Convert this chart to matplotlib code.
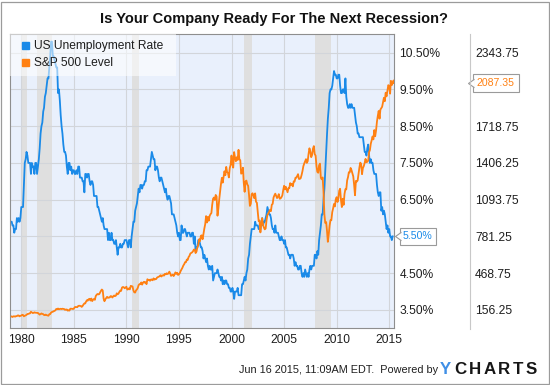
import matplotlib
matplotlib.use("Agg")
import matplotlib.pyplot as plt
import matplotlib.transforms as mtransforms
from matplotlib.lines import Line2D
from matplotlib.patches import Rectangle
from matplotlib.path import Path
import numpy as np
import pandas as pd

plt.rcParams['font.family'] = ['Liberation Sans', 'DejaVu Sans']

# ---------------- data ----------------
title = "Is Your Company Ready For The Next Recession?"
series_names = ["US Unemployment Rate", "S&P 500 Level"]

unemp_start = "1979-01-01"   # monthly, month start
unemployment_rate = [
    5.9, 5.9, 5.8, 5.8, 5.6, 5.7, 5.7, 6.0, 5.9, 6.0, 5.9, 6.0,      # 1979
    6.3, 6.3, 6.3, 6.9, 7.5, 7.6, 7.8, 7.7, 7.5, 7.5, 7.5, 7.2,      # 1980
    7.5, 7.4, 7.4, 7.2, 7.5, 7.5, 7.2, 7.4, 7.6, 7.9, 8.3, 8.5,      # 1981
    8.6, 8.9, 9.0, 9.3, 9.4, 9.6, 9.8, 9.8, 10.1, 10.4, 10.8, 10.8,  # 1982
    10.4, 10.4, 10.3, 10.2, 10.1, 10.1, 9.4, 9.5, 9.2, 8.8, 8.5, 8.3,  # 1983
    8.0, 7.8, 7.8, 7.7, 7.4, 7.2, 7.5, 7.5, 7.3, 7.4, 7.2, 7.3,      # 1984
    7.3, 7.2, 7.2, 7.3, 7.2, 7.4, 7.4, 7.1, 7.1, 7.1, 7.0, 7.0,      # 1985
    6.7, 7.2, 7.2, 7.1, 7.2, 7.2, 7.0, 6.9, 7.0, 7.0, 6.9, 6.6,      # 1986
    6.6, 6.6, 6.6, 6.3, 6.3, 6.2, 6.1, 6.0, 5.9, 6.0, 5.8, 5.7,      # 1987
    5.7, 5.7, 5.7, 5.4, 5.6, 5.4, 5.4, 5.6, 5.4, 5.4, 5.3, 5.3,      # 1988
    5.4, 5.2, 5.0, 5.2, 5.2, 5.3, 5.2, 5.2, 5.3, 5.3, 5.4, 5.4,      # 1989
    5.4, 5.3, 5.2, 5.4, 5.4, 5.2, 5.5, 5.7, 5.9, 5.9, 6.2, 6.3,      # 1990
    6.4, 6.6, 6.8, 6.7, 6.9, 6.9, 6.8, 6.9, 6.9, 7.0, 7.0, 7.3,      # 1991
    7.3, 7.4, 7.4, 7.4, 7.6, 7.8, 7.7, 7.6, 7.6, 7.3, 7.4, 7.4,      # 1992
    7.3, 7.1, 7.0, 7.1, 7.1, 7.0, 6.9, 6.8, 6.7, 6.8, 6.6, 6.5,      # 1993
    6.6, 6.6, 6.5, 6.4, 6.1, 6.1, 6.1, 6.0, 5.9, 5.8, 5.6, 5.5,      # 1994
    5.6, 5.4, 5.4, 5.8, 5.6, 5.6, 5.7, 5.7, 5.6, 5.5, 5.6, 5.6,      # 1995
    5.6, 5.5, 5.5, 5.6, 5.6, 5.3, 5.5, 5.1, 5.2, 5.2, 5.4, 5.4,      # 1996
    5.3, 5.2, 5.2, 5.1, 4.9, 5.0, 4.9, 4.8, 4.9, 4.7, 4.6, 4.7,      # 1997
    4.6, 4.6, 4.7, 4.3, 4.4, 4.5, 4.5, 4.5, 4.6, 4.5, 4.4, 4.4,      # 1998
    4.3, 4.4, 4.2, 4.3, 4.2, 4.3, 4.3, 4.2, 4.2, 4.1, 4.1, 4.0,      # 1999
    4.0, 4.1, 4.0, 3.8, 4.0, 4.0, 4.0, 4.1, 3.9, 3.9, 3.9, 3.9,      # 2000
    4.2, 4.2, 4.3, 4.4, 4.3, 4.5, 4.6, 4.9, 5.0, 5.3, 5.5, 5.7,      # 2001
    5.7, 5.7, 5.7, 5.9, 5.8, 5.8, 5.8, 5.7, 5.7, 5.7, 5.9, 6.0,      # 2002
    5.8, 5.9, 5.9, 6.0, 6.1, 6.3, 6.2, 6.1, 6.1, 6.0, 5.8, 5.7,      # 2003
    5.7, 5.6, 5.8, 5.6, 5.6, 5.6, 5.5, 5.4, 5.4, 5.5, 5.4, 5.4,      # 2004
    5.3, 5.4, 5.2, 5.2, 5.1, 5.0, 5.0, 4.9, 5.0, 5.0, 5.0, 4.9,      # 2005
    4.7, 4.8, 4.7, 4.7, 4.6, 4.6, 4.7, 4.7, 4.5, 4.4, 4.5, 4.4,      # 2006
    4.6, 4.5, 4.4, 4.5, 4.4, 4.6, 4.7, 4.6, 4.7, 4.7, 4.7, 5.0,      # 2007
    5.0, 4.9, 5.1, 5.0, 5.4, 5.6, 5.8, 6.1, 6.1, 6.5, 6.8, 7.3,      # 2008
    7.8, 8.3, 8.7, 9.0, 9.4, 9.5, 9.5, 9.6, 9.8, 10.0, 9.9, 9.9,     # 2009
    9.8, 9.8, 9.9, 9.9, 9.6, 9.4, 9.4, 9.5, 9.5, 9.4, 9.8, 9.3,      # 2010
    9.1, 9.0, 9.0, 9.1, 9.0, 9.1, 9.0, 9.0, 9.0, 8.8, 8.6, 8.5,      # 2011
    8.3, 8.3, 8.2, 8.2, 8.2, 8.2, 8.2, 8.0, 7.8, 7.8, 7.7, 7.9,      # 2012
    8.0, 7.7, 7.5, 7.6, 7.5, 7.5, 7.3, 7.2, 7.2, 7.2, 6.9, 6.7,      # 2013
    6.6, 6.7, 6.7, 6.2, 6.3, 6.1, 6.2, 6.1, 5.9, 5.7, 5.8, 5.6,      # 2014
    5.7, 5.5, 5.5, 5.4, 5.5,                                          # 2015
]

sp500_start = "1979-01-31"   # monthly, month end
sp500_level = [
    99.93, 96.28, 101.59, 101.76, 99.08, 102.91, 103.81, 109.32, 109.32, 101.82, 106.16, 107.94,
    114.16, 113.66, 102.09, 106.29, 111.24, 114.24, 121.67, 122.38, 125.46, 127.47, 140.52, 135.76,
    129.55, 131.27, 136.00, 132.81, 132.59, 131.21, 130.92, 122.79, 116.18, 121.89, 126.35, 122.55,
    120.40, 113.11, 111.96, 116.44, 111.88, 109.61, 107.09, 119.51, 120.42, 133.71, 138.54, 140.64,
    145.30, 148.06, 152.96, 164.42, 162.39, 168.11, 162.56, 164.40, 166.07, 163.55, 166.40, 164.93,
    163.41, 157.06, 159.18, 160.05, 150.55, 153.18, 150.66, 166.68, 166.10, 166.09, 163.58, 167.24,
    179.63, 181.18, 180.66, 179.83, 189.55, 191.85, 190.92, 188.63, 182.08, 189.82, 202.17, 211.28,
    211.78, 226.92, 238.90, 235.52, 247.35, 250.84, 236.12, 252.93, 231.32, 243.98, 249.22, 242.17,
    274.08, 284.20, 291.70, 288.36, 290.10, 304.00, 318.66, 329.80, 321.83, 251.79, 230.30, 247.08,
    257.07, 267.82, 258.89, 261.33, 262.16, 273.50, 272.02, 261.52, 271.91, 278.97, 273.70, 277.72,
    297.47, 288.86, 294.87, 309.64, 320.52, 317.98, 346.08, 351.45, 349.15, 340.36, 345.99, 353.40,
    329.08, 331.89, 339.94, 330.80, 361.23, 358.02, 356.15, 322.56, 306.05, 304.00, 322.22, 330.22,
    343.93, 367.07, 375.22, 375.34, 389.83, 371.16, 387.81, 395.43, 387.86, 392.46, 375.22, 417.09,
    408.79, 412.70, 403.69, 414.95, 415.35, 408.14, 424.21, 414.03, 417.80, 418.68, 431.35, 435.71,
    438.78, 443.38, 451.67, 440.19, 450.19, 450.53, 448.13, 463.56, 458.93, 467.83, 461.79, 466.45,
    481.61, 467.14, 445.77, 450.91, 456.50, 444.27, 458.26, 475.49, 462.69, 472.35, 453.69, 459.27,
    470.42, 487.39, 500.71, 514.71, 533.40, 544.75, 562.06, 561.88, 584.41, 581.50, 605.37, 615.93,
    636.02, 640.43, 645.50, 654.17, 669.12, 670.63, 639.95, 651.99, 687.33, 705.27, 757.02, 740.74,
    786.16, 790.82, 757.12, 801.34, 848.28, 885.14, 954.31, 899.47, 947.28, 914.62, 955.40, 970.43,
    980.28, 1049.34, 1101.75, 1111.75, 1090.82, 1133.84, 1120.67, 957.28, 1017.01, 1098.67, 1163.63, 1229.23,
    1279.64, 1238.33, 1286.37, 1335.18, 1301.84, 1372.71, 1328.72, 1320.41, 1282.71, 1362.93, 1388.91, 1469.25,
    1394.46, 1366.42, 1498.58, 1452.43, 1420.60, 1454.60, 1430.83, 1517.68, 1436.51, 1429.40, 1314.95, 1320.28,
    1366.01, 1239.94, 1160.33, 1249.46, 1255.82, 1224.38, 1211.23, 1133.58, 1040.94, 1059.78, 1139.45, 1148.08,
    1130.20, 1106.73, 1147.39, 1076.92, 1067.14, 989.82, 911.62, 916.07, 815.28, 885.76, 936.31, 879.82,
    855.70, 841.15, 848.18, 916.92, 963.59, 974.50, 990.31, 1008.01, 995.97, 1050.71, 1058.20, 1111.92,
    1131.13, 1144.94, 1126.21, 1107.30, 1120.68, 1140.84, 1101.72, 1104.24, 1114.58, 1130.20, 1173.82, 1211.92,
    1181.27, 1203.60, 1180.59, 1156.85, 1191.50, 1191.33, 1234.18, 1220.33, 1228.81, 1207.01, 1249.48, 1248.29,
    1280.08, 1280.66, 1294.83, 1310.61, 1270.09, 1270.20, 1276.66, 1303.82, 1335.85, 1377.94, 1400.63, 1418.30,
    1438.24, 1406.82, 1420.86, 1482.37, 1530.62, 1503.35, 1455.27, 1473.99, 1526.75, 1549.38, 1481.14, 1468.36,
    1378.55, 1330.63, 1322.70, 1385.59, 1400.38, 1280.00, 1267.38, 1282.83, 1166.36, 968.75, 896.24, 903.25,
    825.88, 735.09, 797.87, 872.81, 919.14, 919.32, 987.48, 1020.62, 1057.08, 1036.19, 1095.63, 1115.10,
    1073.87, 1104.49, 1169.43, 1186.69, 1089.41, 1030.71, 1101.60, 1049.33, 1141.20, 1183.26, 1180.55, 1257.64,
    1286.12, 1327.22, 1325.83, 1363.61, 1345.20, 1320.64, 1292.28, 1218.89, 1131.42, 1253.30, 1246.96, 1257.60,
    1312.41, 1365.68, 1408.47, 1397.91, 1310.33, 1362.16, 1379.32, 1406.58, 1440.67, 1412.16, 1416.18, 1426.19,
    1498.11, 1514.68, 1569.19, 1597.57, 1630.74, 1606.28, 1685.73, 1632.97, 1681.55, 1756.54, 1805.81, 1848.36,
    1782.59, 1859.45, 1872.34, 1883.95, 1923.57, 1960.23, 1930.67, 2003.37, 1972.29, 2018.05, 2067.56, 2058.90,
    1994.99, 2104.50, 2067.89, 2085.51, 2107.39,
]
sp500_last_date = "2015-06-16"
sp500_last_value = 2087.35

recessions = [("1980-01-01", "1980-07-31"), ("1981-07-01", "1982-11-30"),
              ("1990-07-01", "1991-03-31"), ("2001-03-01", "2001-11-30"),
              ("2007-12-01", "2009-06-30")]

pct_ticks = [3.5, 4.5, 5.5, 6.5, 7.5, 8.5, 9.5, 10.5]
level_ticks = [156.25, 468.75, 781.25, 1093.75, 1406.25, 1718.75, 2031.25, 2343.75]
year_ticks = [1980, 1985, 1990, 1995, 2000, 2005, 2010, 2015]
footer = "Jun 16 2015, 11:09AM EDT.  Powered by"
logo = "YCHARTS"

# ---------------- style ----------------
W, H = 550, 385
BLUE = "#1a8ae8"
ORANGE = "#ff8012"
GRID = "#d2d5da"
BAND = "#dfdfdf"
BG = "#e9f0fc"
TXT = "#1e1e1e"
FS = 8.64  # 12 px


def px(v):
    return v * 72.0 / 100.0


fig = plt.figure(figsize=(W / 100, H / 100), dpi=100)
left, right, top, bottom = 10.3, 394.0, 34.3, 328.3
AW, AH = right - left, bottom - top
ax1 = fig.add_axes([left / W, 1 - bottom / H, AW / W, AH / H])
ax1.set_facecolor(BG)
ax2 = ax1.twinx()
ax2.patch.set_visible(False)

unemp_dates = pd.date_range(unemp_start, periods=len(unemployment_rate), freq="MS")
sp_dates = pd.date_range(sp500_start, periods=len(sp500_level), freq="ME")
sp_dates = sp_dates.append(pd.DatetimeIndex([sp500_last_date]))
sp_values = list(sp500_level) + [sp500_last_value]
last_u = unemployment_rate[-1]

for s, e in recessions:
    ax1.axvspan(pd.Timestamp(s), pd.Timestamp(e), color=BAND, lw=0, zorder=0.3)

ax1.plot(unemp_dates, unemployment_rate, color=BLUE, lw=1.3, zorder=2)
ax2.plot(sp_dates, sp_values, color=ORANGE, lw=1.3, zorder=2)

ax1.set_ylim(3.0, 11.0)
ax2.set_ylim(0, 2500)
ax1.set_xlim(pd.Timestamp("1978-12-15"), pd.Timestamp(sp500_last_date))

ax1.set_xticks(pd.to_datetime([f"{y}-01-01" for y in year_ticks]))
ax1.set_xticklabels([str(y) for y in year_ticks])
# tick labels that sit under the last-value flags are covered in the original
ax1.set_yticks(pct_ticks)
ax1.set_yticklabels(["" if abs(v - last_u) < 0.3 else f"{v:.2f}%" for v in pct_ticks])
ax1.yaxis.tick_right()
ax2.set_yticks(level_ticks)
ax2.set_yticklabels(["" if abs(v - sp500_last_value) < 100 else f"{v:.2f}" for v in level_ticks])

ax1.set_axisbelow(True)
ax1.grid(True, color=GRID, lw=0.8, zorder=0.5)
ax1.tick_params(axis="x", length=0, pad=px(5.5), labelsize=FS, labelcolor=TXT)
ax1.tick_params(axis="y", length=0, pad=px(5.3), labelsize=FS, labelcolor=TXT)
ax2.tick_params(axis="y", length=0, pad=px(81), labelsize=FS, labelcolor=TXT)

for sp in ax1.spines.values():
    sp.set_color("#8e8e8e")
    sp.set_linewidth(0.8)
for sp in ax2.spines.values():
    sp.set_visible(False)

# legend: translucent panel + entries
ax2.add_patch(Rectangle((0, 1 - 42.0 / AH), 166.0 / AW, 42.0 / AH, transform=ax2.transAxes,
                        fc="white", ec="none", alpha=0.55, zorder=4, clip_on=False))
handles = [Line2D([], [], marker="s", ls="None", color=BLUE, markersize=px(7)),
           Line2D([], [], marker="s", ls="None", color=ORANGE, markersize=px(7))]
leg = ax2.legend(handles, series_names, loc="upper left",
                 bbox_to_anchor=(4.0 / AW, 1 + 0.5 / AH),
                 borderaxespad=0, frameon=False, prop={"size": FS},
                 handlelength=0.6, handletextpad=0.5, borderpad=0.55,
                 labelspacing=0.42, labelcolor=TXT)
leg.set_zorder(5)

# last-value flags
ptr = Path([(0.7, 1.0), (-0.7, 0.0), (0.7, -1.0)], [Path.MOVETO, Path.LINETO, Path.LINETO])


def flag(ax, value, label, color, text_off_px, vpad):
    blend = mtransforms.blended_transform_factory(ax.transAxes, ax.transData)
    ax.annotate(label, xy=(1, value), xycoords=blend,
                xytext=(px(text_off_px), 0), textcoords="offset points",
                ha="left", va="center", fontsize=7.6, color=color,
                bbox=dict(boxstyle=f"square,pad={vpad}", fc="white", ec="#9a9a9a", lw=0.8),
                annotation_clip=False, zorder=6)
    tr = mtransforms.offset_copy(blend, fig=fig, x=text_off_px - vpad * 10.5 - 1.7, y=0, units="dots")
    ax.plot([1], [value], transform=tr, marker=ptr, markersize=px(8.5),
            markerfacecolor="white", markeredgecolor="#9a9a9a", markeredgewidth=0.8,
            clip_on=False, zorder=7, ls="None")


flag(ax1, last_u, f"{last_u:.2f}%", BLUE, 8.7, 0.3)
flag(ax2, sp500_last_value, f"{sp500_last_value:.2f}", ORANGE, 82.7, 0.38)

# separator between the two tick columns
fig.add_artist(Line2D([469.5 / W, 469.5 / W], [1 - 34 / H, 1 - 329 / H], color="#c8c8c8", lw=0.8))

# title
fig.text(274 / W, 1 - 18.5 / H, title, ha="center", va="center", fontsize=10.5,
         fontweight="bold", color="#111111")

# footer
fig.text(239 / W, 1 - 370 / H, footer, ha="left", va="center", fontsize=7.8, color=TXT)

# logo: letters laid side by side with small tracking
renderer = fig.canvas.get_renderer()
xpos = 440.0
for i, ch in enumerate(logo):
    t = fig.text(xpos / W, 1 - 369.5 / H, ch, ha="left", va="center",
                 fontsize=12.2, fontweight="bold", color=("#3f8fe6" if i == 0 else "#161616"))
    xpos += t.get_window_extent(renderer).width + 2.6

# outer frame
fig.add_artist(Rectangle((0.5 / W, 1.5 / H), 548 / W, 382 / H, transform=fig.transFigure,
                         fill=False, ec="#9b9b9b", lw=0.9))

fig.savefig("out.png", dpi=100)
